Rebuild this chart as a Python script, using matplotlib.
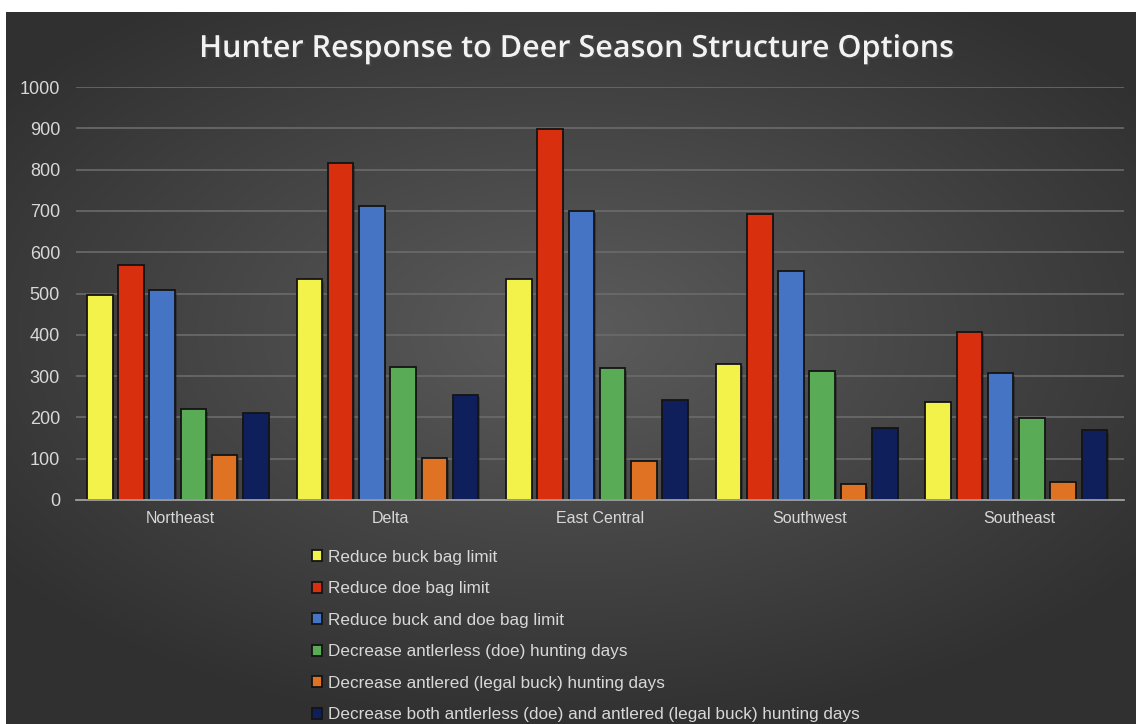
import numpy as np
import matplotlib
matplotlib.use("Agg")
import matplotlib.pyplot as plt
import matplotlib.patheffects as pe

# Data
regions = ["Northeast", "Delta", "East Central", "Southwest", "Southeast"]
series_names = [
    "Reduce buck bag limit",
    "Reduce doe bag limit",
    "Reduce buck and doe bag limit",
    "Decrease antlerless (doe) hunting days",
    "Decrease antlered (legal buck) hunting days",
    "Decrease both antlerless (doe) and antlered (legal buck) hunting days",
]
buck_bag = [497, 535, 536, 330, 238]
doe_bag = [568, 815, 898, 692, 407]
buck_doe_bag = [508, 711, 700, 554, 307]
antlerless_days = [220, 323, 319, 312, 198]
antlered_days = [110, 102, 95, 38, 44]
both_days = [210, 255, 242, 175, 169]
series_values = [buck_bag, doe_bag, buck_doe_bag, antlerless_days, antlered_days, both_days]
colors = ["#f2f24a", "#d8300f", "#4674c4", "#5aab55", "#e07224", "#0f1f5c"]

plt.rcParams['font.family'] = ['Liberation Sans', 'DejaVu Sans']
text_col = "#d8d8d8"

fig = plt.figure(figsize=(11.36, 7.24), dpi=100)
fig.patch.set_facecolor("white")

# dark radial gradient background, leaving a thin white margin top/left
bg = fig.add_axes([6 / 1136, 0, 1 - 6 / 1136, 1 - 12 / 724])
yy, xx = np.mgrid[-1:1:300j, -1:1:400j]
r = np.sqrt((xx * 0.9) ** 2 + ((yy + 0.1) * 1.0) ** 2)
shade = np.clip(0.36 - 0.15 * r, 0.19, 0.36)
bg.imshow(np.dstack([shade] * 3), aspect="auto", extent=[0, 1, 0, 1], interpolation="bilinear")
bg.set_axis_off()

ax = fig.add_axes([76 / 1136, 1 - 500 / 724, (1124 - 76) / 1136, (500 - 87) / 724])
ax.set_facecolor("none")

x = np.arange(len(regions))
pitch = 0.149
width = 0.122
for i, (name, vals, col) in enumerate(zip(series_names, series_values, colors)):
    offs = (i - 2.5) * pitch - 0.014
    # drop shadow
    ax.bar(x + offs + 0.007, vals, width, bottom=-6, color="#000000", alpha=0.25, zorder=2)
    ax.bar(x + offs, vals, width, color=col, edgecolor="#141414", linewidth=1.3,
           label=name, zorder=3)

ax.set_xlim(-0.5, len(regions) - 0.5)
ax.set_ylim(0, 1000)
ax.set_yticks(np.arange(0, 1001, 100))
ax.set_xticks(x)
ax.set_xticklabels(regions)
ax.grid(axis="y", color="#6b6b6b", linewidth=1.2, zorder=0)
ax.set_axisbelow(True)
for s in ["top", "right", "left"]:
    ax.spines[s].set_visible(False)
ax.spines["bottom"].set_color("#a0a0a0")
ax.spines["bottom"].set_linewidth(1.3)
ax.spines["bottom"].set_zorder(4)
ax.tick_params(axis="x", length=0, colors=text_col, labelsize=11.5, pad=8)
ax.tick_params(axis="y", length=0, colors=text_col, labelsize=13, pad=11.5)

fig.text(0.507, 1 - 57 / 724, "Hunter Response to Deer Season Structure Options",
         ha="center", va="baseline", fontsize=22, color="#f2f2f2", fontweight="semibold",
         fontfamily=["Open Sans", "DejaVu Sans"],
         path_effects=[pe.withSimplePatchShadow(offset=(1.5, -1.5), alpha=0.6)])

leg = fig.legend(loc="upper left", bbox_to_anchor=(303 / 1136, 1 - 541 / 724),
                 frameon=False, fontsize=12.3, labelcolor=text_col,
                 handlelength=0.6, handleheight=0.6, handletextpad=0.35,
                 labelspacing=0.97, borderpad=0)

fig.savefig("out.png", dpi=100, facecolor=fig.get_facecolor())
